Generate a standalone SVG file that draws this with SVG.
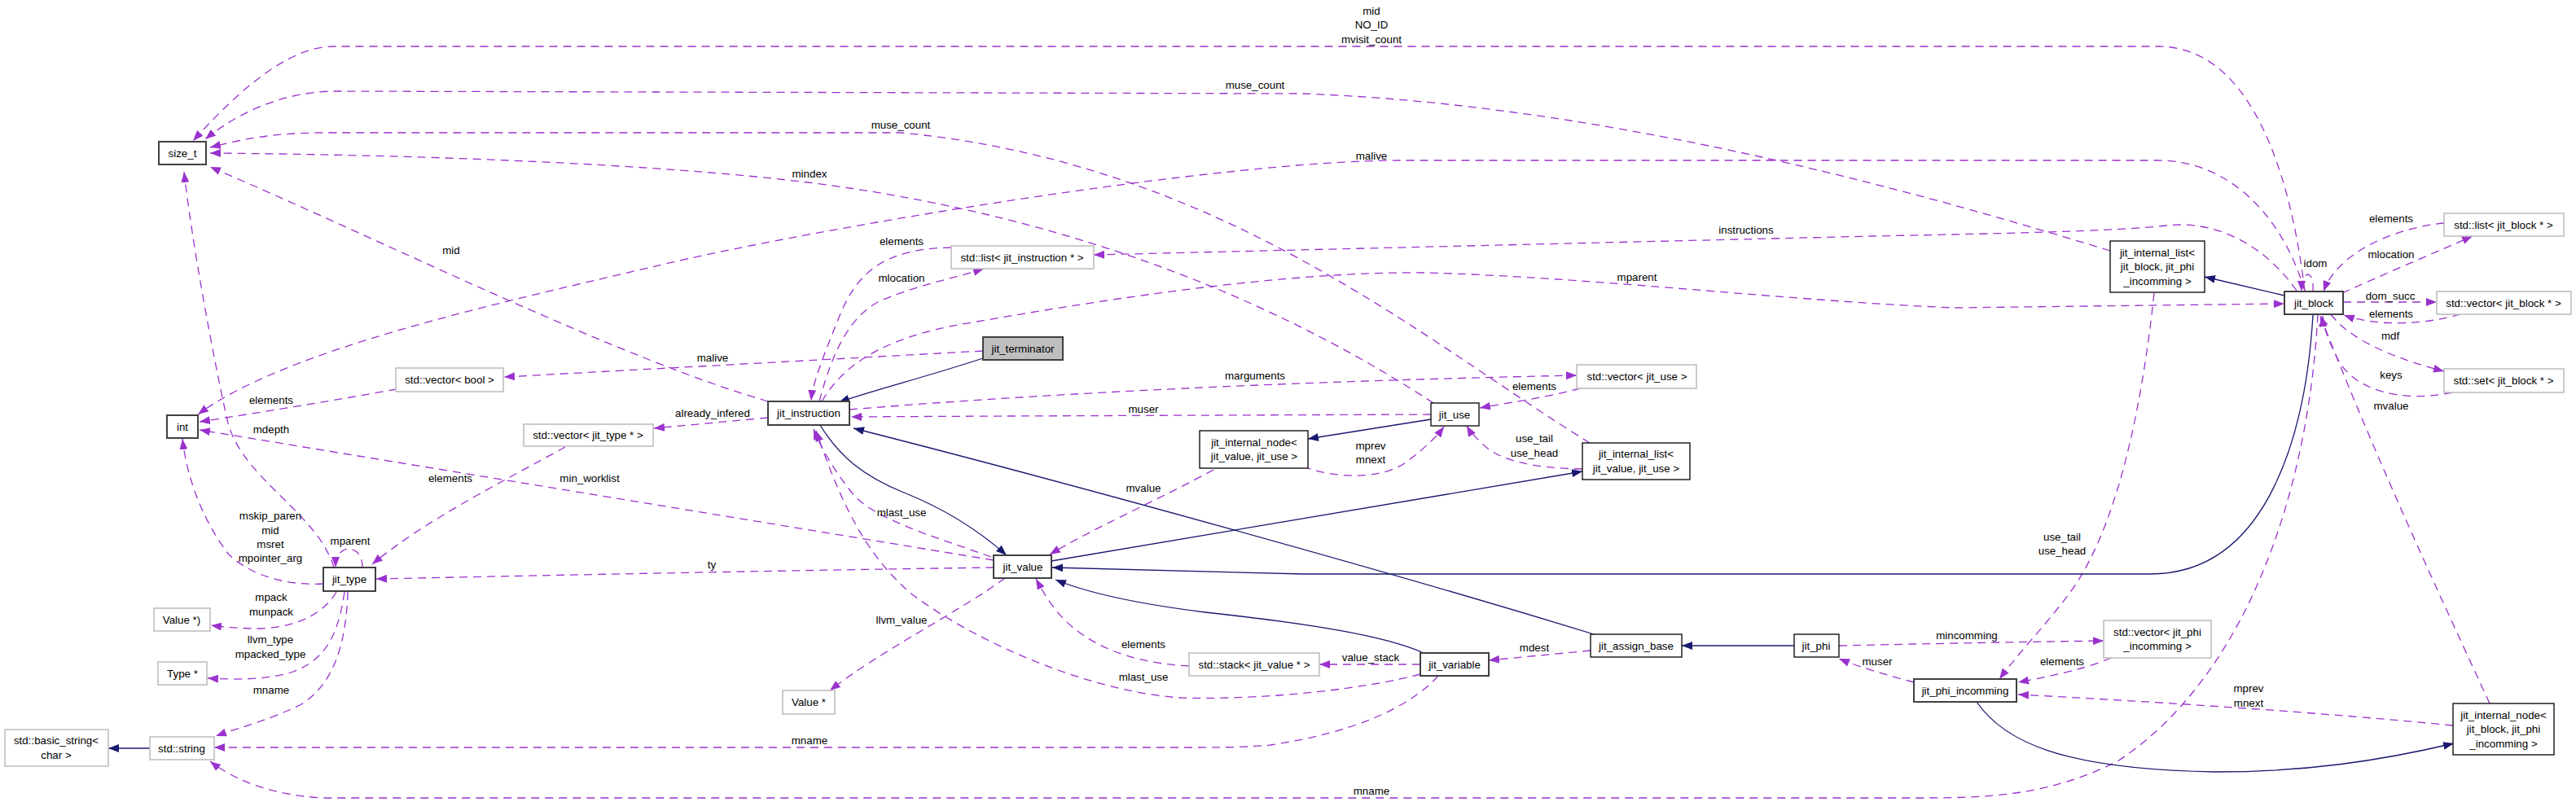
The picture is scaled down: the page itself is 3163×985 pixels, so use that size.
<svg xmlns="http://www.w3.org/2000/svg" width="3163" height="985" viewBox="0 0 3163 985">
<style>
text{font-family:"Liberation Sans",Arial,Helvetica,sans-serif;font-size:13.33px;text-anchor:middle;fill:#000}
.node rect{fill:#fff;stroke:#000;stroke-width:1.3}
.node.d rect{stroke:#404040;stroke-width:2}
.node.g rect{stroke:#bfbfbf;stroke-width:1.6}
.node.root rect{fill:#bfbfbf;stroke:#404040;stroke-width:2}
.u{fill:none;stroke:#9a32cd;stroke-width:1.3;stroke-dasharray:10,7;marker-end:url(#ap)}
.i{fill:none;stroke:#191970;stroke-width:1.3;marker-end:url(#ab)}
</style>
<defs>
<marker id="ap" viewBox="0 0 13 10" markerWidth="13" markerHeight="10" refX="13" refY="5" orient="auto" markerUnits="userSpaceOnUse"><path d="M0,0 L13,5 L0,10 z" fill="#9a32cd"/></marker>
<marker id="ab" viewBox="0 0 13 10" markerWidth="13" markerHeight="10" refX="13" refY="5" orient="auto" markerUnits="userSpaceOnUse"><path d="M0,0 L13,5 L0,10 z" fill="#191970"/></marker>
</defs>
<rect width="3163" height="985" fill="#fff"/>
<g id="edges">
<path class="u" d="M2830,358 C2815,230 2770,57 2650,57 L410,57 C350,57 285,120 237,173"/>
<path class="u" d="M2591,308 C2400,250 2000,130 1600,115 L410,112 C345,113 290,140 252,171"/>
<path class="u" d="M1952,544 C1750,420 1500,200 1106,163 L400,163 C330,163 295,172 258,181"/>
<path class="u" d="M1760,495 C1600,390 1350,270 1000,225 C800,200 500,190 258,188"/>
<path class="u" d="M943,493 C760,440 480,300 258,205"/>
<path class="u" d="M410,697 C390,630 300,590 280,520 C262,440 236,300 226,211"/>
<path class="u" d="M2830,358 C2805,270 2740,197 2650,197 L1720,197 C1500,197 1000,280 800,328 C600,375 350,430 243,509"/>
<path class="u" d="M2820,357 C2780,300 2720,270 2660,277 C2600,284 2450,287 2300,290 L1343,313"/>
<path class="u" d="M1009,493 C1040,440 1100,410 1200,395 C1400,360 1600,333 1750,335 C1950,340 2200,370 2400,378 L2805,373"/>
<path class="u" d="M2840,358 C2842,330 2826,330 2826,358"/>
<path class="u" d="M3001,274 C2940,280 2870,310 2853,358"/>
<path class="u" d="M2876,360 C2920,340 2990,310 3036,290"/>
<path class="u" d="M2877,371 L2992,371"/>
<path class="u" d="M3021,386 C2980,398 2920,402 2878,387"/>
<path class="u" d="M2862,386 C2880,410 2920,435 3001,456"/>
<path class="u" d="M3011,482 C2950,495 2890,480 2870,440 C2860,420 2852,400 2852,388"/>
<path class="u" d="M3057,864 C3000,740 2920,570 2849,388"/>
<path class="u" d="M2846,386 C2835,600 2760,830 2600,935 C2520,975 2450,980 2363,980 L400,980 C340,978 290,960 258,935"/>
<path class="u" d="M2645,360 C2630,500 2600,650 2540,730 C2510,770 2480,800 2455,834"/>
<path class="u" d="M3012,891 C2850,875 2650,862 2478,853"/>
<path class="u" d="M2592,808 C2560,822 2520,830 2478,838"/>
<path class="u" d="M2258,793 C2400,790 2500,788 2583,787"/>
<path class="u" d="M2350,838 C2320,830 2285,820 2258,809"/>
<path class="u" d="M1757,509 C1500,510 1200,511 1045,512"/>
<path class="u" d="M1043,503 C1300,482 1600,468 1936,461"/>
<path class="u" d="M1940,477 C1900,488 1850,495 1817,501"/>
<path class="u" d="M1600,573 C1640,588 1700,590 1730,565 C1750,550 1765,535 1773,524"/>
<path class="u" d="M1943,576 C1880,575 1840,565 1820,545 C1810,535 1805,530 1801,523"/>
<path class="u" d="M1490,577 C1430,610 1340,650 1289,681"/>
<path class="u" d="M1217,684 C1150,660 1080,640 1050,610 C1025,580 1008,550 999,527"/>
<path class="u" d="M1744,828 C1680,845 1560,860 1450,857 C1340,850 1200,790 1120,730 C1060,680 1030,610 1002,529"/>
<path class="u" d="M1460,818 C1400,815 1360,800 1330,780 C1300,760 1285,735 1272,711"/>
<path class="u" d="M1744,816 L1620,816"/>
<path class="u" d="M1953,799 L1828,811"/>
<path class="u" d="M1766,830 C1730,870 1660,900 1560,915 C1530,918 1500,918 1450,918 L263,918"/>
<path class="u" d="M1220,697 C1000,700 700,706 462,711"/>
<path class="u" d="M1234,710 C1180,750 1080,800 1019,848"/>
<path class="u" d="M1220,688 L245,528"/>
<path class="u" d="M694,549 C620,590 520,640 457,693"/>
<path class="u" d="M943,513 L803,526"/>
<path class="u" d="M1207,431 L619,463"/>
<path class="u" d="M1168,304 C1080,305 1050,340 1030,390 C1010,440 998,470 996,492"/>
<path class="u" d="M1006,493 C1020,440 1040,390 1080,370 C1120,352 1170,342 1208,330"/>
<path class="u" d="M445,697 C446,668 412,665 412,697"/>
<path class="u" d="M397,717 C340,720 300,700 280,680 C250,640 230,590 224,539"/>
<path class="u" d="M413,727 C400,750 370,770 320,772 C295,772 275,770 259,768"/>
<path class="u" d="M423,727 C415,780 400,810 360,825 C330,835 290,835 255,833"/>
<path class="u" d="M427,727 C425,790 410,840 370,865 C330,885 295,893 265,904"/>
<path class="u" d="M487,478 C420,490 330,505 245,518"/>
<path class="i" d="M2840,387 C2832,520 2790,705 2640,705 L1600,705 L1292,697"/>
<path class="i" d="M2805,363 L2707,340"/>
<path class="i" d="M2427,862 C2460,910 2530,945 2720,948 C2830,948 2920,935 3013,913"/>
<path class="i" d="M2203,793 L2065,793"/>
<path class="i" d="M1957,779 C1700,700 1300,590 1048,526"/>
<path class="i" d="M1207,440 C1140,462 1070,480 1030,494"/>
<path class="i" d="M1007,522 C1030,560 1060,585 1110,605 C1160,625 1200,650 1236,682"/>
<path class="i" d="M1291,689 L1943,579"/>
<path class="i" d="M1757,515 L1606,539"/>
<path class="i" d="M1748,802 C1700,780 1600,765 1480,752 C1400,742 1340,730 1296,712"/>
<path class="i" d="M184,919 L133,919"/>
</g>
<g id="edge-labels">
<text x="1684" y="17.6">mid</text><text x="1684" y="34.6">NO_ID</text><text x="1684" y="52.6">mvisit_count</text>
<text x="1541" y="108.6">muse_count</text>
<text x="1106" y="157.6">muse_count</text>
<text x="1684" y="195.6">malive</text>
<text x="994" y="217.6">mindex</text>
<text x="2144" y="286.6">instructions</text>
<text x="1107" y="300.6">elements</text>
<text x="554" y="311.6">mid</text>
<text x="2010" y="344.6">mparent</text>
<text x="1107" y="345.6">mlocation</text>
<text x="875" y="443.6">malive</text>
<text x="1541" y="465.6">marguments</text>
<text x="1884" y="478.6">elements</text>
<text x="333" y="495.6">elements</text>
<text x="1404" y="506.6">muser</text>
<text x="875" y="511.6">already_infered</text>
<text x="333" y="531.6">mdepth</text>
<text x="1683" y="551.6">mprev</text><text x="1683" y="568.6">mnext</text>
<text x="1884" y="542.6">use_tail</text><text x="1884" y="560.6">use_head</text>
<text x="553" y="591.6">elements</text>
<text x="724" y="591.6">min_worklist</text>
<text x="1404" y="603.6">mvalue</text>
<text x="1107" y="633.6">mlast_use</text>
<text x="332" y="637.6">mskip_paren</text><text x="332" y="655.6">mid</text><text x="332" y="672.6">msret</text><text x="332" y="689.6">mpointer_arg</text>
<text x="430" y="668.6">mparent</text>
<text x="874" y="697.6">ty</text>
<text x="333" y="737.6">mpack</text><text x="333" y="755.6">munpack</text>
<text x="1107" y="765.6">llvm_value</text>
<text x="332" y="789.6">llvm_type</text><text x="332" y="807.6">mpacked_type</text>
<text x="1404" y="795.6">elements</text>
<text x="1884" y="799.6">mdest</text>
<text x="1683" y="811.6">value_stack</text>
<text x="2305" y="816.6">muser</text>
<text x="1404" y="835.6">mlast_use</text>
<text x="333" y="851.6">mname</text>
<text x="994" y="913.6">mname</text>
<text x="1684" y="975.6">mname</text>
<text x="2415" y="784.6">mincomming</text>
<text x="2532" y="816.6">elements</text>
<text x="2761" y="849.6">mprev</text><text x="2761" y="867.6">mnext</text>
<text x="2532" y="663.6">use_tail</text><text x="2532" y="680.6">use_head</text>
<text x="2936" y="502.6">mvalue</text>
<text x="2936" y="272.6">elements</text>
<text x="2936" y="316.6">mlocation</text>
<text x="2843" y="327.6">idom</text>
<text x="2935" y="367.6">dom_succ</text>
<text x="2936" y="389.6">elements</text>
<text x="2935" y="416.6">mdf</text>
<text x="2936" y="464.6">keys</text>
</g>
<g id="size_t" class="node d"><rect x="195" y="174" width="58" height="28"/><text x="224" y="192.6">size_t</text></g>
<g id="int" class="node d"><rect x="205" y="510" width="38" height="28"/><text x="224" y="528.6">int</text></g>
<g id="vector_bool" class="node g"><rect x="486" y="452" width="132" height="29"/><text x="552" y="471">std::vector&lt; bool &gt;</text></g>
<g id="vector_jit_type" class="node g"><rect x="643" y="521" width="159" height="27"/><text x="722" y="539">std::vector&lt; jit_type * &gt;</text></g>
<g id="jit_type" class="node d"><rect x="397" y="697" width="64" height="29"/><text x="429" y="716">jit_type</text></g>
<g id="value_fn" class="node g"><rect x="189" y="747" width="69" height="28"/><text x="223" y="765.6">Value *)</text></g>
<g id="type_ptr" class="node g"><rect x="194" y="813" width="60" height="28"/><text x="224" y="831.6">Type *</text></g>
<g id="basic_string" class="node g"><rect x="6" y="896" width="127" height="45"/><text x="69" y="913.6">std::basic_string&lt;</text><text x="69" y="931.6">char &gt;</text></g>
<g id="std_string" class="node g"><rect x="184" y="905" width="79" height="28"/><text x="223" y="923.6">std::string</text></g>
<g id="jit_instruction" class="node d"><rect x="943" y="493" width="100" height="29"/><text x="993" y="512">jit_instruction</text></g>
<g id="jit_terminator" class="node root"><rect x="1207" y="414" width="98" height="28"/><text x="1256" y="432.6">jit_terminator</text></g>
<g id="list_instruction" class="node g"><rect x="1168" y="302" width="175" height="28"/><text x="1255" y="320.6">std::list&lt; jit_instruction * &gt;</text></g>
<g id="jit_value" class="node d"><rect x="1220" y="682" width="71" height="28"/><text x="1256" y="700.6">jit_value</text></g>
<g id="value_ptr" class="node g"><rect x="961" y="848" width="64" height="29"/><text x="993" y="867">Value *</text></g>
<g id="internal_node_value_use" class="node"><rect x="1473" y="529" width="133" height="46"/><text x="1540" y="547.6">jit_internal_node&lt;</text><text x="1540" y="564.6">jit_value, jit_use &gt;</text></g>
<g id="stack_value" class="node g"><rect x="1460" y="802" width="160" height="28"/><text x="1540" y="820.6">std::stack&lt; jit_value * &gt;</text></g>
<g id="jit_use" class="node"><rect x="1757" y="495" width="59" height="28"/><text x="1786" y="513.6">jit_use</text></g>
<g id="vector_jit_use" class="node g"><rect x="1936" y="448" width="147" height="29"/><text x="2010" y="467">std::vector&lt; jit_use &gt;</text></g>
<g id="internal_list_value_use" class="node"><rect x="1943" y="544" width="132" height="45"/><text x="2009" y="561.6">jit_internal_list&lt;</text><text x="2009" y="579.6">jit_value, jit_use &gt;</text></g>
<g id="jit_variable" class="node d"><rect x="1744" y="802" width="84" height="28"/><text x="1786" y="820.6">jit_variable</text></g>
<g id="jit_assign_base" class="node"><rect x="1953" y="779" width="112" height="28"/><text x="2009" y="797.6">jit_assign_base</text></g>
<g id="jit_phi" class="node"><rect x="2203" y="779" width="55" height="28"/><text x="2230" y="797.6">jit_phi</text></g>
<g id="jit_phi_incomming" class="node d"><rect x="2350" y="834" width="126" height="28"/><text x="2413" y="852.6">jit_phi_incomming</text></g>
<g id="vector_phi_incomming" class="node g"><rect x="2583" y="762" width="132" height="46"/><text x="2649" y="780.6">std::vector&lt; jit_phi</text><text x="2649" y="797.6">_incomming &gt;</text></g>
<g id="internal_node_block_phi" class="node"><rect x="3012" y="864" width="124" height="63"/><text x="3074" y="882.6">jit_internal_node&lt;</text><text x="3074" y="900.1">jit_block, jit_phi</text><text x="3074" y="917.6">_incomming &gt;</text></g>
<g id="internal_list_block_phi" class="node"><rect x="2591" y="296" width="116" height="63"/><text x="2649" y="314.6">jit_internal_list&lt;</text><text x="2649" y="332.1">jit_block, jit_phi</text><text x="2649" y="349.6">_incomming &gt;</text></g>
<g id="jit_block" class="node d"><rect x="2805" y="358" width="72" height="28"/><text x="2841" y="376.6">jit_block</text></g>
<g id="list_block" class="node g"><rect x="3001" y="262" width="147" height="28"/><text x="3074" y="280.6">std::list&lt; jit_block * &gt;</text></g>
<g id="vector_block" class="node g"><rect x="2992" y="358" width="165" height="28"/><text x="3074" y="376.6">std::vector&lt; jit_block * &gt;</text></g>
<g id="set_block" class="node g"><rect x="3001" y="453" width="147" height="29"/><text x="3074" y="472">std::set&lt; jit_block * &gt;</text></g>
</svg>
